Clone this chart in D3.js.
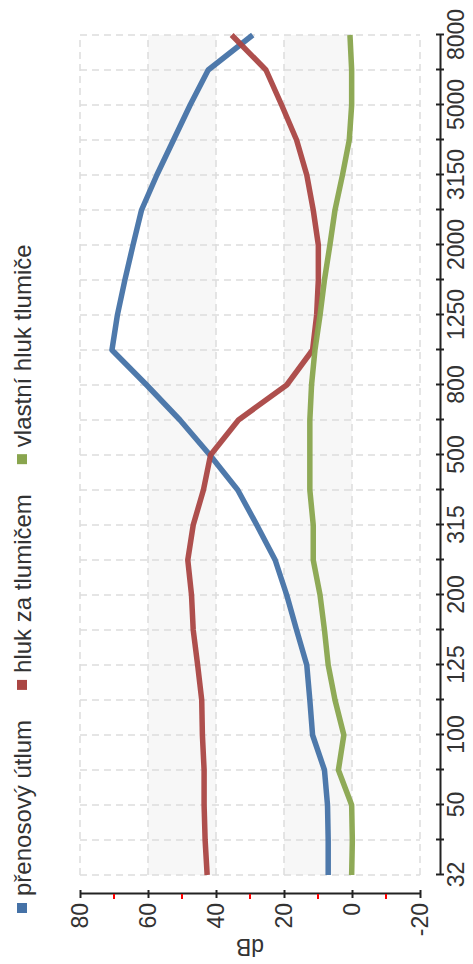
<!DOCTYPE html>
<html>
<head>
<meta charset="utf-8">
<script src="https://cdn.jsdelivr.net/npm/d3@7"></script>
<style>
  html, body { margin: 0; padding: 0; background: #fff; }
  svg { display: block; font-family: "Liberation Sans", Arial, sans-serif; }
</style>
</head>
<body>
<svg id="chart" width="473" height="964"></svg>
<script>
// frequency bands (Hz), only every other one gets a label
var categories = ["31.5", "40", "50", "63", "80", "100", "125", "160", "200", "250", "315", "400", "500",
  "630", "800", "1000", "1250", "1600", "2000", "2500", "3150", "4000", "5000", "6300", "8000"];
var tickLabels = ["32", "", "50", "", "100", "", "125", "", "200", "", "315", "", "500",
  "", "800", "", "1250", "", "2000", "", "3150", "", "5000", "", "8000"];
var dbTicks = [80, 60, 40, 20, 0, -20];
var dbMinorTicks = [70, 50, 30, 10, -10];

var prenosovyUtlum = [7.0, 7.0, 7.2, 8.1, 11.6, 12.4, 13.3, 16.3, 19.2, 22.6, 28.0, 33.6, 41.8,
  50.6, 60.4, 70.6, 69.0, 66.8, 64.4, 61.9, 57.4, 52.5, 47.6, 42.3, 29.2];
var hlukZaTlumicem = [42.6, 43.2, 43.5, 43.5, 44.0, 44.2, 45.4, 46.7, 47.2, 48.3, 46.7, 43.7, 41.6,
  33.4, 19.2, 11.6, 10.4, 9.9, 9.9, 11.4, 13.3, 16.3, 20.7, 25.3, 35.4];
var vlastniHluk = [0.1, -0.1, 0.1, 4.0, 2.4, 5.0, 7.0, 8.1, 9.4, 11.4, 11.4, 12.4, 12.4,
  12.4, 11.9, 10.9, 9.4, 8.1, 6.5, 5.0, 2.8, 0.8, 0.1, 0.1, 0.6];

var seriesNames = ["přenosový útlum", "hluk za tlumičem", "vlastní hluk tlumiče"];
var seriesColors = ["#4572a7", "#aa4643", "#89a54e"];

(function() {
  var W = 964, H = 473;   // chart is drawn landscape, then turned a quarter left
  var svg = d3.select("#chart");
  var g = svg.append("g").attr("transform", "translate(0," + W + ") rotate(-90)");

  var x = d3.scalePoint().domain(categories).range([89, 929]);
  var y = d3.scaleLinear().domain([-20, 80]).range([420, 80]);

  // alternate bands
  [[40, 60], [0, 20]].forEach(function(b) {
    g.append("rect")
      .attr("x", x.range()[0]).attr("width", x.range()[1] - x.range()[0])
      .attr("y", y(b[1])).attr("height", y(b[0]) - y(b[1]))
      .attr("fill", "#f7f7f7");
  });

  // dashed grid
  var grid = g.append("g").attr("stroke", "#dddddd").attr("stroke-width", 1.5).attr("stroke-dasharray", "7,5");
  grid.selectAll("line.v").data(categories).enter().append("line")
    .attr("x1", function(d) { return x(d); }).attr("x2", function(d) { return x(d); })
    .attr("y1", y(80)).attr("y2", y(-20));
  grid.selectAll("line.h").data(dbTicks).enter().append("line")
    .attr("x1", x.range()[0]).attr("x2", x.range()[1])
    .attr("y1", function(d) { return y(d); }).attr("y2", function(d) { return y(d); });

  // series
  var line = d3.line()
    .x(function(d, i) { return x(categories[i]); })
    .y(function(d) { return y(d); });
  [prenosovyUtlum, hlukZaTlumicem, vlastniHluk].forEach(function(s, k) {
    g.append("path").datum(s)
      .attr("d", line)
      .attr("fill", "none")
      .attr("stroke", seriesColors[k])
      .attr("stroke-width", 5.5)
      .attr("stroke-linejoin", "round")
      .attr("stroke-opacity", 0.95);
  });

  // frequency axis
  var xAxis = g.append("g").attr("transform", "translate(0,440)")
    .call(d3.axisBottom(x).tickSize(4).tickSizeOuter(0).tickPadding(4)
      .tickFormat(function(d, i) { return tickLabels[i]; }));
  xAxis.selectAll(".tick").append("line").attr("y2", -4).attr("stroke", "currentColor");

  // dB axis
  var yAxis = g.append("g").attr("transform", "translate(70,0)")
    .call(d3.axisLeft(y).tickValues(dbTicks).tickSize(4).tickSizeOuter(0).tickPadding(5)
      .tickFormat(function(d) { return String(d); }));
  yAxis.selectAll(".tick").append("line").attr("x2", 4).attr("stroke", "currentColor");
  yAxis.selectAll("line.minor").data(dbMinorTicks).enter().append("line")
    .attr("class", "minor")
    .attr("x1", 0).attr("x2", -5)
    .attr("y1", function(d) { return y(d); }).attr("y2", function(d) { return y(d); })
    .attr("stroke", "#ff0000").attr("stroke-width", 2);

  [xAxis, yAxis].forEach(function(a) {
    a.attr("font-size", 23).attr("font-family", null).attr("color", "#222");
    a.selectAll("path, line").attr("stroke-width", 2);
    a.selectAll("text").attr("fill", "#333");
  });

  g.append("text")
    .attr("transform", "translate(25," + ((y(80) + y(-20)) / 2) + ") rotate(-90)")
    .attr("text-anchor", "middle")
    .attr("font-size", 23).attr("fill", "#333")
    .text("dB");

  // legend
  var legend = g.append("g").attr("transform", "translate(51,0)");
  var pos = 0;
  seriesNames.forEach(function(name, k) {
    var item = legend.append("g").attr("transform", "translate(" + pos + ",0)");
    item.append("rect").attr("x", 0).attr("y", 17).attr("width", 10).attr("height", 10)
      .attr("fill", seriesColors[k]);
    var t = item.append("text").attr("x", 17).attr("y", 31)
      .attr("font-size", 24).attr("fill", "#333").text(name);
    pos += 17 + t.node().getComputedTextLength() + 30;
  });
}).call(this);
</script>
</body>
</html>
